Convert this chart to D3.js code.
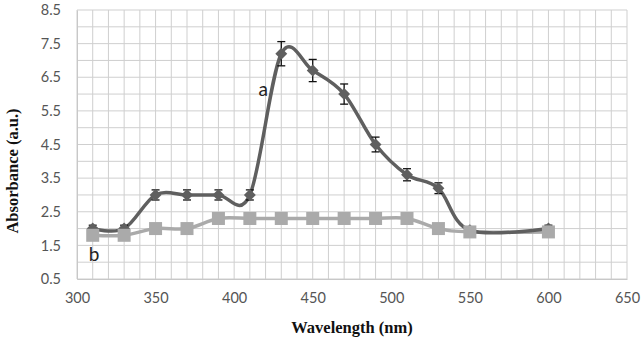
<!DOCTYPE html>
<html>

<head>
  <meta charset="utf8">
  <script src="https://d3js.org/d3.v7.min.js"></script>
  <style>
    body {
      margin: 0;
      background: #fff;
    }

    .tick text {
      font-family: Lato, "Open Sans", sans-serif;
      font-size: 14.5px;
      fill: #555;
    }

    .axis-title {
      font-family: "Times New Roman", "Liberation Serif", "DejaVu Serif", serif;
      font-weight: bold;
      font-size: 16.5px;
      fill: #111;
    }

    .series-label {
      font-family: Lato, "Open Sans", sans-serif;
      font-size: 19px;
      fill: #222;
    }
  </style>
</head>

<body>
  <svg id="chart" width="641" height="337"></svg>

  <script>
    var wavelengths = [310, 330, 350, 370, 390, 410, 430, 450, 470, 490, 510, 530, 550, 600];
    var seriesA = [2.0, 2.0, 3.0, 3.0, 3.0, 3.0, 7.2, 6.7, 6.0, 4.5, 3.6, 3.2, 1.95, 2.0];
    var errorA = [0.1, 0.1, 0.15, 0.15, 0.15, 0.15, 0.36, 0.33, 0.3, 0.22, 0.18, 0.16, 0.1, 0.1];
    var seriesB = [1.8, 1.8, 2.0, 2.0, 2.3, 2.3, 2.3, 2.3, 2.3, 2.3, 2.3, 2.0, 1.9, 1.9];
    var xTicks = [300, 350, 400, 450, 500, 550, 600, 650];
    var yTicks = [0.5, 1.5, 2.5, 3.5, 4.5, 5.5, 6.5, 7.5, 8.5];

    var chart = d3.select('#chart');
    var margin = { top: 10, right: 14, bottom: 58, left: 77 };
    var width = chart.attr('width') - margin.left - margin.right;
    var height = chart.attr('height') - margin.top - margin.bottom;

    var x = d3.scaleLinear().domain([300, 650]).range([0, width]);
    var y = d3.scaleLinear().domain([0.5, 8.5]).range([height, 0]);

    var group = chart.append('g')
      .attr('transform', 'translate(' + margin.left + ', ' + margin.top + ')');

    // grid: every 10 nm and every 0.5 a.u.
    group.append('g')
      .selectAll('line')
      .data(d3.range(300, 651, 10))
      .enter()
      .append('line')
      .attr('x1', (d) => x(d)).attr('x2', (d) => x(d))
      .attr('y1', 0).attr('y2', height)
      .attr('stroke', '#cfcfcf')
      .attr('stroke-width', 1);

    group.append('g')
      .selectAll('line')
      .data(d3.range(0.5, 8.51, 0.5))
      .enter()
      .append('line')
      .attr('x1', 0).attr('x2', width)
      .attr('y1', (d) => y(d)).attr('y2', (d) => y(d))
      .attr('stroke', '#cfcfcf')
      .attr('stroke-width', 1);

    var xAxis = group.append('g')
      .attr('transform', 'translate(0, ' + height + ')')
      .call(d3.axisBottom(x).tickValues(xTicks).tickSize(0).tickPadding(14));
    xAxis.select('.domain').attr('stroke', '#c8c8c8');

    var yAxis = group.append('g')
      .call(d3.axisLeft(y).tickValues(yTicks).tickFormat(d3.format('.1f')).tickSize(0).tickPadding(16));
    yAxis.select('.domain').attr('stroke', '#c8c8c8');

    var line = d3.line()
      .x((d) => x(d[0]))
      .y((d) => y(d[1]))
      .curve(d3.curveCardinal.tension(0));

    var dataA = wavelengths.map((w, i) => [w, seriesA[i], errorA[i]]);
    var dataB = wavelengths.map((w, i) => [w, seriesB[i]]);

    // series b
    group.append('path')
      .datum(dataB)
      .attr('fill', 'none')
      .attr('stroke', '#aaaaaa')
      .attr('stroke-width', 3.5)
      .attr('d', line);

    // series a
    group.append('path')
      .datum(dataA)
      .attr('fill', 'none')
      .attr('stroke', '#5f5f5f')
      .attr('stroke-width', 3.5)
      .attr('d', line);

    // error bars for a
    var bars = group.append('g')
      .selectAll('g')
      .data(dataA)
      .enter()
      .append('g')
      .attr('stroke', '#111')
      .attr('stroke-width', 1.3);
    bars.append('line')
      .attr('x1', (d) => x(d[0])).attr('x2', (d) => x(d[0]))
      .attr('y1', (d) => y(d[1] - d[2])).attr('y2', (d) => y(d[1] + d[2]));
    bars.append('line')
      .attr('x1', (d) => x(d[0]) - 4).attr('x2', (d) => x(d[0]) + 4)
      .attr('y1', (d) => y(d[1] + d[2])).attr('y2', (d) => y(d[1] + d[2]));
    bars.append('line')
      .attr('x1', (d) => x(d[0]) - 4).attr('x2', (d) => x(d[0]) + 4)
      .attr('y1', (d) => y(d[1] - d[2])).attr('y2', (d) => y(d[1] - d[2]));

    // diamonds for a
    group.selectAll('.diamond')
      .data(dataA)
      .enter()
      .append('path')
      .attr('class', 'diamond')
      .attr('d', d3.symbol().type(d3.symbolDiamond2).size(90))
      .attr('transform', (d) => 'translate(' + x(d[0]) + ',' + y(d[1]) + ')')
      .attr('fill', '#5f5f5f');

    // squares for b
    group.selectAll('.square')
      .data(dataB)
      .enter()
      .append('rect')
      .attr('class', 'square')
      .attr('x', (d) => x(d[0]) - 6.5)
      .attr('y', (d) => y(d[1]) - 6.5)
      .attr('width', 13)
      .attr('height', 13)
      .attr('fill', '#aaaaaa');

    // series labels
    group.append('text')
      .attr('class', 'series-label')
      .attr('x', x(415.5))
      .attr('y', y(5.95))
      .text('a');
    group.append('text')
      .attr('class', 'series-label')
      .attr('x', x(307.5))
      .attr('y', y(1.05))
      .text('b');

    // axis titles
    chart.append('text')
      .attr('class', 'axis-title')
      .attr('text-anchor', 'middle')
      .attr('x', 352)
      .attr('y', 333)
      .text('Wavelength (nm)');

    chart.append('text')
      .attr('class', 'axis-title')
      .attr('text-anchor', 'middle')
      .attr('transform', 'translate(18, 171) rotate(-90)')
      .text('Absorbance (a.u.)');
  </script>
</body>

</html>
